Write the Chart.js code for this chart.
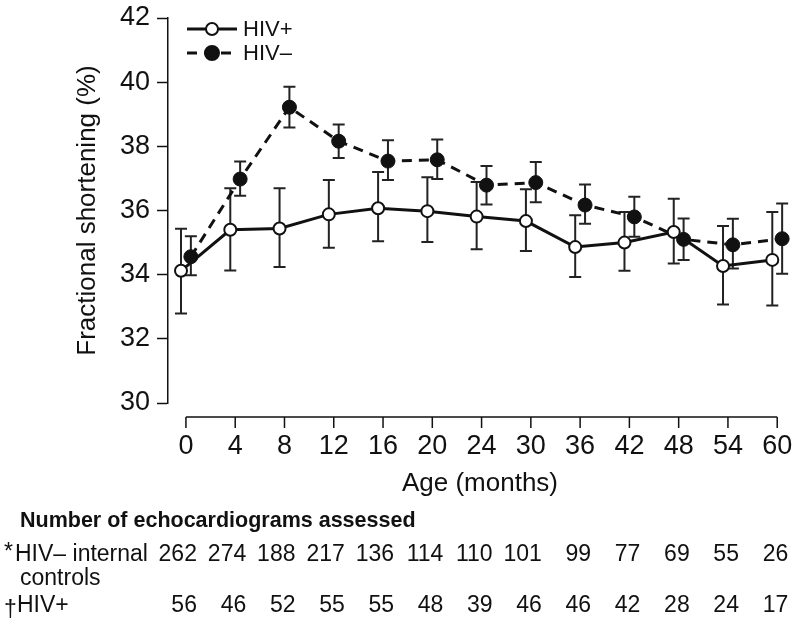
<!DOCTYPE html>
<html><head><meta charset="utf-8">
<script src="https://cdn.jsdelivr.net/npm/chart.js@4/dist/chart.umd.min.js"></script>
<style>html,body{margin:0;background:#fff}canvas{display:block}</style>
</head><body>
<canvas id="c" width="800" height="632"></canvas>
<script>
const ages=['0','4','8','12','16','20','24','30','36','42','48','54','60'];
const hivPos=[34.12,35.40,35.44,35.88,36.07,35.98,35.81,35.67,34.86,35.00,35.33,34.27,34.46];
const hivPosHi=[35.43,36.69,36.69,36.95,37.20,37.04,36.89,36.66,35.85,35.95,36.37,35.52,35.95];
const hivPosLo=[32.79,34.13,34.24,34.84,35.04,35.02,34.79,34.74,33.93,34.12,34.35,33.07,33.04];
const hivNeg=[34.56,36.98,39.22,38.16,37.54,37.58,36.79,36.87,36.17,35.80,35.10,34.93,35.12];
const hivNegHi=[35.20,37.53,39.86,38.68,38.19,38.21,37.39,37.51,36.81,36.43,35.75,35.74,36.22];
const hivNegLo=[33.98,36.46,38.59,37.64,36.95,36.98,36.19,36.26,35.59,35.18,34.46,34.19,34.03];
const nNeg=[262,274,188,217,136,114,110,101,99,77,69,55,26];
const nPos=[56,46,52,55,55,48,39,46,46,42,28,24,17];
const yTicks=[30,32,34,36,38,40,42];

const F='"Liberation Sans", Arial, sans-serif';
const ink='#111';
const dodge=0.1;
const pts=(v,d)=>v.map((y,i)=>({x:i+d,y}));

const errorBars={id:'errorBars',beforeDatasetsDraw(chart){
 const ctx=chart.ctx,ys=chart.scales.y;
 chart.data.datasets.forEach((ds,di)=>{
  const meta=chart.getDatasetMeta(di);
  meta.data.forEach((el,j)=>{
   const t=ys.getPixelForValue(ds.hi[j]),b=ys.getPixelForValue(ds.lo[j]);
   ctx.save();ctx.strokeStyle='#222';ctx.lineWidth=2;ctx.beginPath();
   ctx.moveTo(el.x,t);ctx.lineTo(el.x,b);
   ctx.moveTo(el.x-6,t);ctx.lineTo(el.x+6,t);
   ctx.moveTo(el.x-6,b);ctx.lineTo(el.x+6,b);
   ctx.stroke();ctx.restore();
  });
 });
}};

const extras={id:'extras',afterDraw(chart){
 const ctx=chart.ctx,xs=chart.scales.x;
 ctx.save();
 // detached x axis
 const ay=417;
 ctx.strokeStyle=ink;ctx.lineWidth=1.5;ctx.beginPath();
 ctx.moveTo(xs.getPixelForValue(0),ay);ctx.lineTo(xs.getPixelForValue(ages.length-1),ay);
 ages.forEach((a,i)=>{const x=xs.getPixelForValue(i);ctx.moveTo(x,ay);ctx.lineTo(x,ay+11);});
 ctx.stroke();
 // legend
 chart.data.datasets.forEach((ds,i)=>{
  const y=29+i*24;
  ctx.strokeStyle=ink;ctx.lineWidth=3;ctx.setLineDash(ds.borderDash||[]);
  ctx.beginPath();ctx.moveTo(187,y);ctx.lineTo(237,y);ctx.stroke();ctx.setLineDash([]);
  ctx.beginPath();ctx.arc(212,y,ds.pointRadius,0,Math.PI*2);
  ctx.fillStyle=ds.pointBackgroundColor;ctx.fill();ctx.lineWidth=2;ctx.stroke();
  ctx.fillStyle=ink;ctx.font='22px '+F;ctx.textBaseline='middle';ctx.textAlign='left';
  ctx.fillText(ds.label,243,y+1);
 });
 // counts table
 ctx.fillStyle=ink;ctx.textBaseline='middle';ctx.textAlign='left';
 ctx.font='bold 21.5px '+F;ctx.fillText('Number of echocardiograms assessed',20,521);
 ctx.font='23px '+F;
 ctx.fillText('*',4,553);ctx.fillText('HIV\u2013 internal',15,555);
 ctx.fillText('controls',20,579);
 ctx.fillText('\u2020',4,611);ctx.fillText('HIV+',17,606);
 ctx.textAlign='right';
 ages.forEach((a,i)=>{
  const x=xs.getPixelForValue(i)+11;
  ctx.fillText(String(nNeg[i]),x,555);
  ctx.fillText(String(nPos[i]),x,606);
 });
 ctx.restore();
}};

new Chart(document.getElementById('c'),{
 type:'line',
 data:{datasets:[
  {label:'HIV+',data:pts(hivPos,-dodge),hi:hivPosHi,lo:hivPosLo,borderColor:ink,borderWidth:3,
   pointRadius:6,pointBorderWidth:2,pointBackgroundColor:'#fff',pointBorderColor:ink,tension:0},
  {label:'HIV\u2013',data:pts(hivNeg,dodge),hi:hivNegHi,lo:hivNegLo,borderColor:ink,borderWidth:3,borderDash:[10,7],
   pointRadius:7,pointBorderWidth:1,pointBackgroundColor:ink,pointBorderColor:ink,tension:0}
 ]},
 options:{
  responsive:false,animation:false,
  layout:{padding:{left:70,right:0,top:18,bottom:129}},
  plugins:{legend:{display:false},tooltip:{enabled:false}},
  scales:{
   x:{type:'linear',min:-0.364,max:12.3,
    afterBuildTicks:s=>{s.ticks=ages.map((a,i)=>({value:i}));},
    afterFit:s=>{s.height=100;s.paddingLeft=0;s.paddingRight=0;},
    grid:{display:false,drawTicks:false},border:{display:false},
    ticks:{color:ink,font:{family:F,size:27},padding:27,maxRotation:0,autoSkip:false,callback:v=>ages[v]},
    title:{display:true,text:'Age (months)',color:ink,font:{family:F,size:26},padding:{top:0,bottom:4}}},
   y:{min:30,max:42,
    afterBuildTicks:s=>{s.ticks=yTicks.map(v=>({value:v}));},
    afterFit:s=>{s.width=98;s.paddingTop=0;s.paddingBottom=0;},
    grid:{drawOnChartArea:false,drawTicks:true,tickLength:11,tickColor:ink,tickWidth:1.5},
    border:{display:true,color:ink,width:1.5},
    ticks:{color:ink,font:{family:F,size:27},padding:7},
    title:{display:true,text:'Fractional shortening (%)',color:ink,font:{family:F,size:26},padding:{top:2,bottom:0}}}
  }
 },
 plugins:[errorBars,extras]
});
</script>
</body></html>
